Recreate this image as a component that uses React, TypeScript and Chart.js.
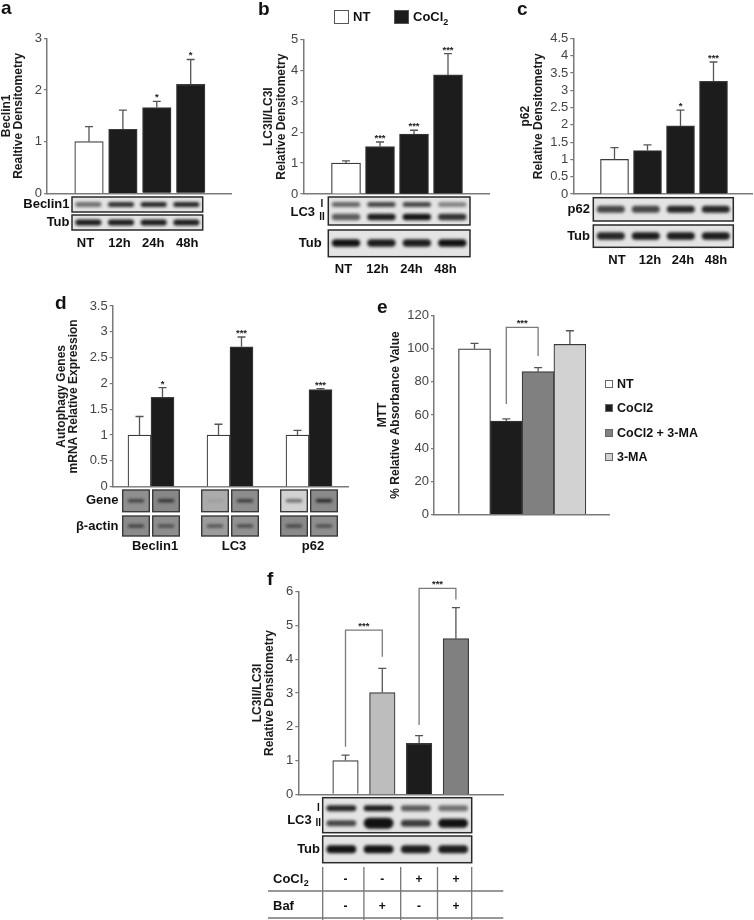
import React, { useEffect, useRef } from 'react';
import { Chart, registerables } from 'chart.js';

Chart.register(...registerables);

const FONT = "'Liberation Sans', Arial, Helvetica, sans-serif";
const AX = '#7a7a7a';
const ERR = '#555555';
const WHITE = '#ffffff';
const BLACK = '#1c1c1c';
const DARKGREY = '#808080';
const LIGHTGREY = '#d2d2d2';
const BAFGREY = '#bdbdbd';

// ---------------- data ----------------
const timeLabels = ['NT', '12h', '24h', '48h'];
const timeColors = [WHITE, BLACK, BLACK, BLACK];
const legendB = ['NT', 'CoCl2'];

const beclinTicks = [0, 1, 2, 3];
const beclinTitle = ['Beclin1', 'Realtive Densitometry'];
const beclinValues = [1.0, 1.24, 1.66, 2.11];
const beclinErrors = [0.29, 0.37, 0.12, 0.48];
const beclinStars = ['', '', '*', '*'];

const lc3Ticks = [0, 1, 2, 3, 4, 5];
const lc3Title = ['LC3II/LC3I', 'Relative Densitometry'];
const lc3Values = [1.0, 1.53, 1.94, 3.85];
const lc3Errors = [0.07, 0.15, 0.12, 0.69];
const lc3Stars = ['', '***', '***', '***'];

const p62Ticks = [0, 0.5, 1, 1.5, 2, 2.5, 3, 3.5, 4, 4.5];
const p62Title = ['p62', 'Relative Densitometry'];
const p62Values = [1.0, 1.26, 1.97, 3.26];
const p62Errors = [0.34, 0.16, 0.46, 0.56];
const p62Stars = ['', '', '*', '***'];

const geneLabels = ['Beclin1', 'LC3', 'p62'];
const mrnaTicks = [0, 0.5, 1, 1.5, 2, 2.5, 3, 3.5];
const mrnaTitle = ['Autophagy Genes', 'mRNA Relative Expression'];
const mrnaNT = [1.0, 1.0, 1.0];
const mrnaNTErrors = [0.36, 0.21, 0.09];
const mrnaCoCl2 = [1.73, 2.71, 1.88];
const mrnaCoCl2Errors = [0.19, 0.19, 0.02];
const mrnaStars = ['*', '***', '***'];

const mttLabels = ['NT', 'CoCl2', 'CoCl2 + 3-MA', '3-MA'];
const mttColors = [WHITE, BLACK, DARKGREY, LIGHTGREY];
const mttTicks = [0, 20, 40, 60, 80, 100, 120];
const mttTitle = ['MTT', '% Relative Absorbance Value'];
const mttValues = [100, 56.4, 86.2, 102.7];
const mttErrors = [3.3, 1.2, 2.4, 8.2];
const mttBrackets = [{ from: 1, to: 2, top: 113, leftEnd: 66.6, rightEnd: 95.6, label: '***' }];

const bafTicks = [0, 1, 2, 3, 4, 5, 6];
const bafTitle = ['LC3II/LC3I', 'Relative Densitometry'];
const bafColors = [WHITE, BAFGREY, BLACK, DARKGREY];
const bafValues = [1.0, 3.01, 1.51, 4.61];
const bafErrors = [0.16, 0.72, 0.23, 0.92];
const bafBrackets = [
  { from: 0, to: 1, top: 4.86, leftEnd: 1.41, rightEnd: 4.07, label: '***' },
  { from: 2, to: 3, top: 6.1, leftEnd: 2.05, rightEnd: 5.77, label: '***' },
];
const cocl2Row = ['-', '-', '+', '+'];
const bafRow = ['-', '+', '-', '+'];

// blot band intensities (decorative gel images)
const blotA_beclin = [0.55, 0.85, 0.9, 0.9];
const blotA_tub = [0.95, 0.95, 0.95, 0.95];
const blotB_lc3I = [0.6, 0.75, 0.75, 0.45];
const blotB_lc3II = [0.65, 0.95, 1.0, 0.85];
const blotB_tub = [1.0, 0.95, 0.95, 1.0];
const blotC_p62 = [0.75, 0.75, 0.9, 0.9];
const blotC_tub = [0.9, 0.95, 0.95, 0.95];
const blotF_lc3I = [0.9, 0.95, 0.65, 0.55];
const blotF_lc3II = [0.75, 1.0, 0.8, 1.0];
const blotF_lc3IIh = [6, 11, 7, 9];
const blotF_tub = [1.0, 1.0, 0.95, 0.95];
const geneBoxFills = ['#8f8f8f', '#878787', '#ababab', '#8d8d8d', '#d2d2d2', '#8a8a8a'];
const geneBands = [0.7, 0.8, 0.08, 0.75, 0.6, 0.95];
const actinBoxFills = ['#8c8c8c', '#8e8e8e', '#9c9c9c', '#929292', '#8a8a8a', '#8e8e8e'];
const actinBands = [0.7, 0.6, 0.6, 0.65, 0.65, 0.6];

// ---------------- layout ----------------
type Series = { values: number[]; errors: number[]; colors: string[]; stars?: string[] };
type Spec = any;

const panels: Spec[] = [
  {
    id: 'a',
    rect: { l: 0, t: 0, w: 245, h: 262 },
    axis: { x: 47, top: 38.3, zero: 193.3, end: 231.7 },
    ticks: beclinTicks, title: beclinTitle, titleX: 6.3,
    xFirst: 89, xSpacing: 33.9, barThickness: 28.5,
    series: [{ values: beclinValues, errors: beclinErrors, colors: timeColors, stars: beclinStars }],
    cats: { labels: timeLabels, y: 243, shift: -3.5 },
    blot: {
      padL: 17, padR: 12,
      rows: [
        { label: 'Beclin1', labelRight: 69.5, top: 197, h: 15, bands: [{ dy: 7.5, h: 5, a: blotA_beclin }] },
        { label: 'Tub', labelRight: 69.5, top: 215, h: 15, bands: [{ dy: 7.5, h: 6, a: blotA_tub }] },
      ],
    },
  },
  {
    id: 'b',
    rect: { l: 258, t: 0, w: 240, h: 285 },
    axis: { x: 303.3, top: 39.3, zero: 194, end: 489.3 },
    ticks: lc3Ticks, title: lc3Title, titleX: 269,
    xFirst: 346, xSpacing: 34, barThickness: 29,
    series: [{ values: lc3Values, errors: lc3Errors, colors: timeColors, stars: lc3Stars }],
    cats: { labels: timeLabels, y: 269.3, shift: -2.5 },
    blot: {
      padL: 17.7, padR: 22,
      rows: [
        {
          label: 'LC3', labelRight: 315, labelY: 212.7, top: 197, h: 28,
          roman: { x: 322, yI: 204, yII: 217 },
          bands: [{ dy: 7.5, h: 5, a: blotB_lc3I }, { dy: 20, h: 6.5, a: blotB_lc3II }],
        },
        { label: 'Tub', labelRight: 321.7, top: 230, h: 26.7, bands: [{ dy: 13, h: 7.5, a: blotB_tub }] },
      ],
    },
  },
  {
    id: 'c',
    rect: { l: 512, t: 0, w: 242, h: 275 },
    axis: { x: 573.3, top: 38.5, zero: 194, end: 752 },
    ticks: p62Ticks, title: p62Title, titleX: 526,
    xFirst: 614.5, xSpacing: 33, barThickness: 28,
    series: [{ values: p62Values, errors: p62Errors, colors: timeColors, stars: p62Stars }],
    cats: { labels: timeLabels, y: 260, shift: 2.5 },
    blot: {
      padL: 21.2, padR: 19.8,
      rows: [
        { label: 'p62', labelRight: 590, top: 197.7, h: 23.3, bands: [{ dy: 11.5, h: 7, a: blotC_p62 }] },
        { label: 'Tub', labelRight: 590, top: 225, h: 22.3, bands: [{ dy: 11, h: 7.5, a: blotC_tub }] },
      ],
    },
  },
  {
    id: 'd',
    rect: { l: 50, t: 290, w: 305, h: 270 },
    axis: { x: 112.7, top: 306, zero: 486.7, end: 348 },
    ticks: mrnaTicks, title: mrnaTitle, titleX: 61.5,
    xFirst: 151, xSpacing: 79, barThickness: 23,
    series: [
      { values: mrnaNT, errors: mrnaNTErrors, colors: [WHITE, WHITE, WHITE] },
      { values: mrnaCoCl2, errors: mrnaCoCl2Errors, colors: [BLACK, BLACK, BLACK], stars: mrnaStars },
    ],
    cats: { labels: geneLabels, y: 546, shift: 4 },
    gels: {
      offset: 15, w: 26.6,
      rows: [
        { label: 'Gene', labelRight: 118.5, top: 490, h: 21.7, fills: geneBoxFills, bands: geneBands },
        { label: 'β-actin', labelRight: 118.5, top: 516, h: 20, fills: actinBoxFills, bands: actinBands },
      ],
    },
  },
  {
    id: 'e',
    rect: { l: 370, t: 290, w: 250, h: 240 },
    axis: { x: 434, top: 315.7, zero: 514.3, end: 609.3 },
    ticks: mttTicks, title: mttTitle, titleX: 383,
    xFirst: 474.5, xSpacing: 31.8, barThickness: 32,
    series: [{ values: mttValues, errors: mttErrors, colors: mttColors }],
    brackets: mttBrackets,
  },
  {
    id: 'f',
    rect: { l: 245, t: 565, w: 270, h: 355 },
    axis: { x: 298.3, top: 591.7, zero: 794.3, end: 503.3 },
    ticks: bafTicks, title: bafTitle, titleX: 257.5,
    xFirst: 345.5, xSpacing: 36.8, barThickness: 25.5,
    series: [{ values: bafValues, errors: bafErrors, colors: bafColors }],
    brackets: bafBrackets,
    blot: {
      padL: 22.8, padR: 15.8,
      rows: [
        {
          label: 'LC3', labelRight: 311.7, labelY: 820, top: 797.7, h: 35,
          roman: { x: 318.3, yI: 808.3, yII: 823.3 },
          bands: [{ dy: 10.5, h: 6, a: blotF_lc3I }, { dy: 25.5, h: 7, a: blotF_lc3II, hs: blotF_lc3IIh }],
        },
        { label: 'Tub', labelRight: 320, labelY: 849.3, top: 836, h: 26.7, bands: [{ dy: 13.3, h: 8, a: blotF_tub }] },
      ],
    },
    table: {
      labelX: 273, lineTop: 867, lineLeft: 268, lineRight: 503.3, hLines: [891, 918],
      rows: [
        { label: 'CoCl', sub: '2', signs: cocl2Row, y: 879.5 },
        { label: 'Baf', signs: bafRow, y: 906.5 },
      ],
    },
  },
];

// ---------------- drawing helpers ----------------
function drawBand(ctx: CanvasRenderingContext2D, cx: number, cy: number, w: number, h: number, a: number) {
  ctx.save();
  ctx.filter = 'blur(1.5px)';
  ctx.fillStyle = `rgba(18,18,18,${a})`;
  ctx.beginPath();
  (ctx as any).roundRect(cx - w / 2, cy - h / 2, w, h, h / 2);
  ctx.fill();
  ctx.restore();
}

function overlayPlugin(spec: Spec) {
  return {
    id: 'overlay_' + spec.id,
    afterDraw(chart: any) {
      const ctx: CanvasRenderingContext2D = chart.ctx;
      const { rect } = spec;
      const ys = chart.scales.y;
      const xs = chart.scales.x;
      const Y = (v: number) => ys.getPixelForValue(v) + rect.t;
      const C = (i: number) => xs.getPixelForValue(i + 1) + rect.l;
      const pos = spec.series.map((_: any, di: number) =>
        chart.getDatasetMeta(di).data.map((el: any) => el.x + rect.l)
      );
      ctx.save();
      ctx.translate(-rect.l, -rect.t);

      // error bars and stars
      spec.series.forEach((s: Series, di: number) => {
        s.values.forEach((v, i) => {
          const x = pos[di][i];
          const y1 = Y(v);
          const y2 = Y(v + s.errors[i]);
          ctx.strokeStyle = ERR;
          ctx.lineWidth = 1.3;
          ctx.beginPath();
          ctx.moveTo(x, y1);
          ctx.lineTo(x, y2);
          ctx.moveTo(x - 4, y2);
          ctx.lineTo(x + 4, y2);
          ctx.stroke();
          const st = s.stars && s.stars[i];
          if (st) {
            ctx.fillStyle = '#222';
            ctx.font = `bold 9.5px ${FONT}`;
            ctx.textAlign = 'center';
            ctx.textBaseline = 'alphabetic';
            ctx.fillText(st, x, y2 - 1);
          }
        });
      });

      // significance brackets
      (spec.brackets || []).forEach((b: any) => {
        const xa = pos[0][b.from];
        const xb = pos[0][b.to];
        const yt = Y(b.top);
        ctx.strokeStyle = AX;
        ctx.lineWidth = 1.3;
        ctx.beginPath();
        ctx.moveTo(xa, Y(b.leftEnd));
        ctx.lineTo(xa, yt);
        ctx.lineTo(xb, yt);
        ctx.lineTo(xb, Y(b.rightEnd));
        ctx.stroke();
        ctx.fillStyle = '#222';
        ctx.font = `bold 9.5px ${FONT}`;
        ctx.textAlign = 'center';
        ctx.textBaseline = 'alphabetic';
        ctx.fillText(b.label, (xa + xb) / 2, yt - 1);
      });

      const n = spec.series[0].values.length;

      // western blots
      if (spec.blot) {
        const bl = spec.blot;
        const left = C(0) - bl.padL;
        const right = C(n - 1) + bl.padR;
        const laneW = (right - left) / n;
        bl.rows.forEach((r: any) => {
          ctx.fillStyle = '#e4e4e4';
          ctx.fillRect(left, r.top, right - left, r.h);
          ctx.save();
          ctx.beginPath();
          ctx.rect(left, r.top, right - left, r.h);
          ctx.clip();
          r.bands.forEach((bd: any) => {
            for (let i = 0; i < n; i++) {
              const h = bd.hs ? bd.hs[i] : bd.h;
              drawBand(ctx, left + laneW * (i + 0.5), r.top + bd.dy, laneW * 0.8, h, bd.a[i]);
            }
          });
          ctx.restore();
          ctx.strokeStyle = '#2a2a2a';
          ctx.lineWidth = 1.5;
          ctx.strokeRect(left, r.top, right - left, r.h);
          ctx.fillStyle = '#111';
          ctx.font = `bold 13px ${FONT}`;
          ctx.textAlign = 'right';
          ctx.textBaseline = 'middle';
          ctx.fillText(r.label, r.labelRight, r.labelY != null ? r.labelY : r.top + r.h / 2);
          if (r.roman) {
            ctx.font = `bold 10px ${FONT}`;
            ctx.textAlign = 'center';
            ctx.fillText('I', r.roman.x, r.roman.yI);
            ctx.fillText('II', r.roman.x, r.roman.yII);
          }
        });
      }

      // RT-PCR gels (panel d)
      if (spec.gels) {
        const g = spec.gels;
        g.rows.forEach((r: any) => {
          for (let gi = 0; gi < n; gi++) {
            for (let k = 0; k < 2; k++) {
              const idx = gi * 2 + k;
              const cx = C(gi) + (k === 0 ? -g.offset : g.offset);
              const x0 = cx - g.w / 2;
              ctx.fillStyle = r.fills[idx];
              ctx.fillRect(x0, r.top, g.w, r.h);
              drawBand(ctx, cx, r.top + r.h / 2, g.w * 0.62, 3, r.bands[idx]);
              ctx.strokeStyle = '#3a3a3a';
              ctx.lineWidth = 1.4;
              ctx.strokeRect(x0, r.top, g.w, r.h);
            }
          }
          ctx.fillStyle = '#111';
          ctx.font = `bold 13px ${FONT}`;
          ctx.textAlign = 'right';
          ctx.textBaseline = 'middle';
          ctx.fillText(r.label, r.labelRight, r.top + r.h / 2);
        });
      }

      // category labels
      if (spec.cats) {
        ctx.fillStyle = '#111';
        ctx.font = `bold 13px ${FONT}`;
        ctx.textAlign = 'center';
        ctx.textBaseline = 'middle';
        spec.cats.labels.forEach((lab: string, i: number) => {
          ctx.fillText(lab, C(i) + spec.cats.shift, spec.cats.y);
        });
      }

      // condition table (panel f)
      if (spec.table) {
        const tb = spec.table;
        const left = C(0) - spec.blot.padL;
        const right = C(n - 1) + spec.blot.padR;
        const vx = [left];
        for (let i = 0; i < n - 1; i++) vx.push((pos[0][i] + pos[0][i + 1]) / 2);
        vx.push(right);
        ctx.strokeStyle = '#777';
        ctx.lineWidth = 1.3;
        ctx.beginPath();
        vx.forEach((x) => {
          ctx.moveTo(x, tb.lineTop);
          ctx.lineTo(x, 920 + rect.t);
        });
        tb.hLines.forEach((y: number) => {
          ctx.moveTo(tb.lineLeft, y);
          ctx.lineTo(tb.lineRight, y);
        });
        ctx.stroke();
        tb.rows.forEach((r: any) => {
          ctx.fillStyle = '#111';
          ctx.font = `bold 13px ${FONT}`;
          ctx.textAlign = 'left';
          ctx.textBaseline = 'middle';
          ctx.fillText(r.label, tb.labelX, r.y);
          if (r.sub) {
            const w = ctx.measureText(r.label).width;
            ctx.font = `bold 9px ${FONT}`;
            ctx.fillText(r.sub, tb.labelX + w + 0.5, r.y + 4);
          }
          ctx.font = `bold 12px ${FONT}`;
          ctx.textAlign = 'center';
          r.signs.forEach((s: string, i: number) => ctx.fillText(s, pos[0][i], r.y));
        });
      }

      ctx.restore();
    },
  };
}

function buildChart(canvas: HTMLCanvasElement, spec: Spec) {
  const { rect, axis } = spec;
  const xMin = 1 - (spec.xFirst - axis.x) / spec.xSpacing;
  const xMax = xMin + (axis.end - axis.x) / spec.xSpacing;
  const lh = 12.5;
  const ticks: number[] = spec.ticks;
  return new Chart(canvas, {
    type: 'bar',
    data: {
      datasets: spec.series.map((s: Series) => ({
        data: s.values.map((v, i) => ({ x: i + 1, y: v })),
        backgroundColor: s.colors,
        borderColor: '#3a3a3a',
        borderWidth: 1.2,
        barThickness: spec.barThickness,
      })),
    },
    options: {
      responsive: false,
      animation: false,
      devicePixelRatio: 1,
      events: [],
      layout: {
        padding: {
          left: 0,
          top: axis.top - rect.t,
          right: rect.l + rect.w - axis.end,
          bottom: rect.t + rect.h - axis.zero,
        },
      },
      plugins: { legend: { display: false }, tooltip: { enabled: false } },
      scales: {
        x: {
          type: 'linear',
          offset: false,
          min: xMin,
          max: xMax,
          ticks: { display: false },
          grid: { display: false },
          border: { display: true, color: AX, width: 1.5 },
          afterFit: (s: any) => {
            s.height = 0;
          },
        },
        y: {
          type: 'linear',
          min: ticks[0],
          max: ticks[ticks.length - 1],
          afterBuildTicks: (s: any) => {
            s.ticks = ticks.map((v) => ({ value: v }));
          },
          ticks: {
            callback: (v: any) => String(v),
            color: '#444',
            font: { family: FONT, size: 13 },
            padding: 2,
            autoSkip: false,
          },
          grid: { drawOnChartArea: false, drawTicks: true, tickLength: 3, color: AX, lineWidth: 1.2 },
          border: { display: true, color: AX, width: 1.5 },
          title: {
            display: true,
            text: spec.title,
            color: '#1a1a1a',
            font: { family: FONT, size: 12, weight: 'bold', lineHeight: lh / 12 },
            padding: { top: spec.titleX - rect.l - lh / 2, bottom: 0 },
          },
          afterFit: (s: any) => {
            s.width = axis.x - rect.l;
          },
        },
      },
    } as any,
    plugins: [overlayPlugin(spec)],
  });
}

function PanelChart({ spec }: { spec: Spec }) {
  const ref = useRef<HTMLCanvasElement>(null);
  useEffect(() => {
    if (!ref.current) return;
    const chart = buildChart(ref.current, spec);
    return () => chart.destroy();
  }, [spec]);
  const { rect } = spec;
  return (
    <canvas
      ref={ref}
      width={rect.w}
      height={rect.h}
      style={{ position: 'absolute', left: rect.l, top: rect.t, width: rect.w, height: rect.h }}
    />
  );
}

const letters = [
  { t: 'a', x: 1, base: 14 },
  { t: 'b', x: 258, base: 15 },
  { t: 'c', x: 517, base: 15 },
  { t: 'd', x: 55, base: 309 },
  { t: 'e', x: 377, base: 312.5 },
  { t: 'f', x: 267, base: 585 },
];

function Chem({ s }: { s: string }) {
  if (s === 'CoCl2') {
    return (
      <span>
        CoCl<span style={{ fontSize: 9, position: 'relative', top: 4 }}>2</span>
      </span>
    );
  }
  return <span>{s}</span>;
}

export default function App() {
  const legendBColors = [WHITE, BLACK];
  const legendBX = [334, 394];
  const legendEY = [384, 408.3, 432.7, 456.7];
  return (
    <div
      style={{
        position: 'fixed',
        left: 0,
        top: 0,
        width: 754,
        height: 920,
        background: '#fff',
        overflow: 'hidden',
        fontFamily: FONT,
        color: '#111',
      }}
    >
      {panels.map((p) => (
        <PanelChart key={p.id} spec={p} />
      ))}
      {letters.map((l) => (
        <div
          key={l.t}
          style={{ position: 'absolute', left: l.x, top: l.base - 16, font: `bold 19px ${FONT}`, lineHeight: '19px' }}
        >
          {l.t}
        </div>
      ))}
      {legendB.map((s, i) => (
        <React.Fragment key={s}>
          <div
            style={{
              position: 'absolute',
              left: legendBX[i],
              top: 9.5,
              width: 15,
              height: 14,
              boxSizing: 'border-box',
              border: '1.2px solid #555',
              background: legendBColors[i],
            }}
          />
          <div
            style={{
              position: 'absolute',
              left: legendBX[i] + 19,
              top: 8.5,
              font: `bold 13px ${FONT}`,
              lineHeight: '15px',
              whiteSpace: 'nowrap',
            }}
          >
            <Chem s={s} />
          </div>
        </React.Fragment>
      ))}
      {mttLabels.map((s, i) => (
        <React.Fragment key={s}>
          <div
            style={{
              position: 'absolute',
              left: 605,
              top: legendEY[i] - 4,
              width: 8,
              height: 8,
              boxSizing: 'border-box',
              border: '1px solid #666',
              background: mttColors[i],
            }}
          />
          <div
            style={{
              position: 'absolute',
              left: 617,
              top: legendEY[i] - 8,
              font: `bold 12.5px ${FONT}`,
              lineHeight: '16px',
              whiteSpace: 'nowrap',
            }}
          >
            {s}
          </div>
        </React.Fragment>
      ))}
    </div>
  );
}
